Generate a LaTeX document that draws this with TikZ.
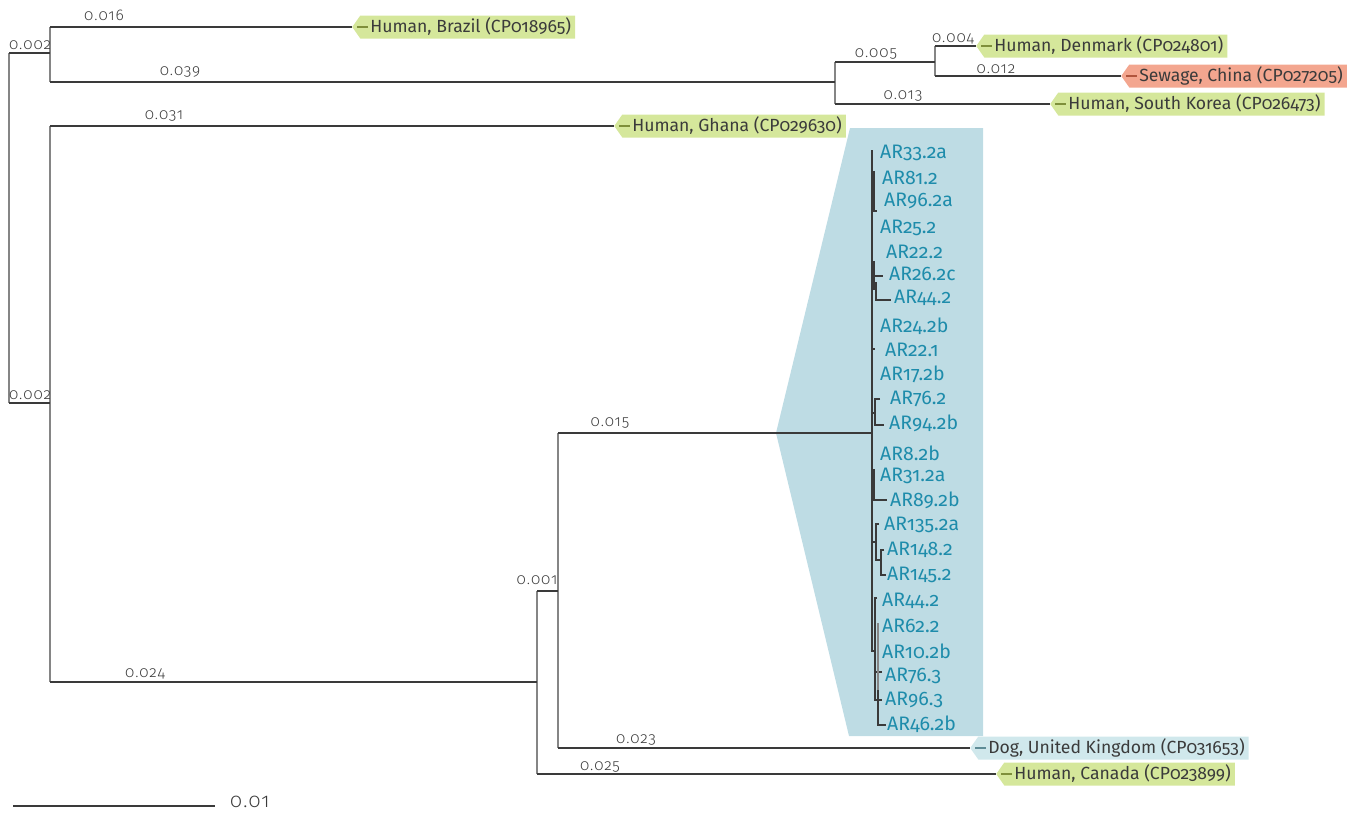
\documentclass[tikz,border=0pt]{standalone}
\usepackage{fontspec}
\usetikzlibrary{shapes.symbols}
\IfFontExistsTF{Fira Sans Book}{%
  \newfontfamily\tagfont{Fira Sans Book}[Numbers=OldStyle]
}{%
  \newfontfamily\tagfont{Fira Sans}[Numbers=OldStyle]
}
\IfFontExistsTF{Fira Sans Light}{%
  \setmainfont{Fira Sans Light}[Numbers=OldStyle]
  \newfontfamily\lenfont{Fira Sans Light}[Numbers=OldStyle,LetterSpace=6]
}{%
  \setmainfont{Fira Sans}[Numbers=OldStyle]
  \newfontfamily\lenfont{Fira Sans}[Numbers=OldStyle,LetterSpace=6]
}
\definecolor{hline}{HTML}{3A3A3A}
\definecolor{vline}{HTML}{858585}
\definecolor{tgreen}{HTML}{D5E79B}
\definecolor{tolive}{HTML}{7E8F3A}
\definecolor{tsalmon}{HTML}{F3A68F}
\definecolor{tbrown}{HTML}{B0553D}
\definecolor{tdog}{HTML}{D0E8EC}
\definecolor{tdogline}{HTML}{5E8C96}
\definecolor{cladefill}{HTML}{BEDCE4}
\definecolor{cladetext}{HTML}{1E8CAB}
\definecolor{txt}{HTML}{3B3B3B}
\tikzset{
  hb/.style={draw=hline, line width=2pt},
  vb/.style={draw=vline, line width=1.5pt},
  it/.style={draw=hline, line width=1.2pt},
  stub/.style={line width=2pt},
  tag/.style={shape=signal, signal to=west, signal from=nowhere, signal pointer angle=110,
    minimum height=23pt, inner ysep=0pt, inner xsep=4pt, anchor=west, text=txt,
    font=\tagfont\fontsize{17.6}{17.6}\selectfont, execute at begin node={\hspace*{6pt}}},
  blen/.style={font=\lenfont\fontsize{15.5}{15.5}\selectfont, text=txt, inner sep=0pt},
  leaf/.style={font=\tagfont\fontsize{19.5}{19.5}\selectfont, text=cladetext, anchor=west, inner sep=0pt},
}
\begin{document}
\begin{tikzpicture}[x=1pt,y=-1pt]
\useasboundingbox (0,0) rectangle (1360,814);
% clade background
\fill[cladefill] (776,433) -- (850,128) -- (983,128) -- (983,736) -- (849,736) -- cycle;

% internal nodes
\coordinate (A) at (9,228);
\coordinate (B) at (50,53);
\coordinate (C) at (50,403);
\coordinate (D) at (835,82);
\coordinate (E) at (935,62);
\coordinate (F) at (537,682);
\coordinate (G) at (558,591);
\coordinate (H) at (872,433);

% tags
\node[tag, fill=tgreen] (brazil) at (352,27) {Human, Brazil (CP018965)};
\node[tag, fill=tgreen] (denmark) at (976,46) {Human, Denmark (CP024801)};
\node[tag, fill=tsalmon] (sewage) at (1121,76) {Sewage, China (CP027205)};
\node[tag, fill=tgreen] (korea) at (1050,104) {Human, South Korea (CP026473)};
\node[tag, fill=tgreen] (ghana) at (614,126) {Human, Ghana (CP029630)};
\node[tag, fill=tdog] (dog) at (970,748) {Dog, United Kingdom (CP031653)};
\node[tag, fill=tgreen] (canada) at (996,774) {Human, Canada (CP023899)};

% vertical lines
\draw[vb] (A |- B) -- (A |- C);
\draw[vb] (B |- brazil.west) -- (B |- D);
\draw[vb] (D |- E) -- (D |- korea.west);
\draw[vb] (E |- denmark.west) -- (E |- sewage.west);
\draw[vb] (C |- ghana.west) -- (C |- F);
\draw[vb] (F |- G) -- (F |- canada.west);
\draw[vb] (G |- H) -- (G |- dog.west);

% horizontal branches
\draw[hb] (A |- B) -- (B);
\draw[hb] (A |- C) -- (C);
\draw[hb] (B |- brazil.west) -- (brazil.west);
\draw[hb] (B |- D) -- (D);
\draw[hb] (D |- E) -- (E);
\draw[hb] (E |- denmark.west) -- (denmark.west);
\draw[hb] (E |- sewage.west) -- (sewage.west);
\draw[hb] (D |- korea.west) -- (korea.west);
\draw[hb] (C |- ghana.west) -- (ghana.west);
\draw[hb] (C |- F) -- (F);
\draw[hb] (F |- G) -- (G);
\draw[hb] (F |- canada.west) -- (canada.west);
\draw[hb] (G |- H) -- (H);
\draw[hb] (G |- dog.west) -- (dog.west);

% stubs inside tags
\draw[stub, tolive] ([xshift=5pt]brazil.west) -- ++(11,0);
\draw[stub, tolive] ([xshift=5pt]denmark.west) -- ++(11,0);
\draw[stub, tbrown] ([xshift=5pt]sewage.west) -- ++(11,0);
\draw[stub, tolive] ([xshift=5pt]korea.west) -- ++(11,0);
\draw[stub, tolive] ([xshift=5pt]ghana.west) -- ++(11,0);
\draw[stub, tdogline] ([xshift=5pt]dog.west) -- ++(11,0);
\draw[stub, tolive] ([xshift=5pt]canada.west) -- ++(11,0);

% branch length labels
\node[blen] (l1) at (30,45) {0.002};
\node[blen] (l2) at (30,395) {0.002};
\node[blen] (l3) at (104,15) {0.016};
\node[blen] (l4) at (180,72) {0.039};
\node[blen] (l5) at (164,116) {0.031};
\node[blen] (l6) at (876,54) {0.005};
\node[blen] (l7) at (953,39) {0.004};
\node[blen] (l8) at (996,69) {0.012};
\node[blen] (l9) at (903,96) {0.013};
\node[blen] (l10) at (610,423) {0.015};
\node[blen] (l11) at (537,580) {0.001};
\node[blen] (l12) at (145,674) {0.024};
\node[blen] (l13) at (636,740) {0.023};
\node[blen] (l14) at (600,767) {0.025};

% clade leaves
\node[leaf] (a1) at (880,153) {AR33.2a};
\node[leaf] (a2) at (882,178) {AR81.2};
\node[leaf] (a3) at (884,201) {AR96.2a};
\node[leaf] (a4) at (880,228) {AR25.2};
\node[leaf] (a5) at (886,252) {AR22.2};
\node[leaf] (a6) at (889,274) {AR26.2c};
\node[leaf] (a7) at (894,298) {AR44.2};
\node[leaf] (a8) at (880,326) {AR24.2b};
\node[leaf] (a9) at (885,350) {AR22.1};
\node[leaf] (a10) at (880,374) {AR17.2b};
\node[leaf] (a11) at (890,399) {AR76.2};
\node[leaf] (a12) at (889,423) {AR94.2b};
\node[leaf] (a13) at (880,453) {AR8.2b};
\node[leaf] (a14) at (880,476) {AR31.2a};
\node[leaf] (a15) at (890,500) {AR89.2b};
\node[leaf] (a16) at (884,525) {AR135.2a};
\node[leaf] (a17) at (887,550) {AR148.2};
\node[leaf] (a18) at (887,575) {AR145.2};
\node[leaf] (a19) at (882,601) {AR44.2};
\node[leaf] (a20) at (882,626) {AR62.2};
\node[leaf] (a21) at (882,651) {AR10.2b};
\node[leaf] (a22) at (885,676) {AR76.3};
\node[leaf] (a23) at (885,700) {AR96.3};
\node[leaf] (a24) at (887,724) {AR46.2b};

% inner clade tree
\draw[it] (872,150) -- (872,652);
\draw[it] (872,172) -- (874,172) -- (874,211) -- (877,211);
\draw[it] (872,262) -- (874,262) -- (874,290);
\draw[it] (874,276) -- (883,276);
\draw[it] (876,282) -- (876,300) -- (891,300);
\draw[it] (872,349) -- (875,349);
\draw[it] (872,413) -- (875,413);
\draw[it] (880,399) -- (875,399) -- (875,425) -- (884,425);
\draw[it] (872,470) -- (874,470) -- (874,500) -- (887,500);
\draw[it] (872,542) -- (876,542);
\draw[it] (879,524) -- (876,524) -- (876,560) -- (881,560);
\draw[it] (884,550) -- (881,550) -- (881,575) -- (886,575);
\draw[it] (872,651) -- (875,651);
\draw[it] (877,598) -- (875,598) -- (875,700) -- (882,700);
\draw[it] (875,672) -- (882,672);
\draw[draw=vline, line width=1.2pt] (878,623) -- (878,690);
\draw[it] (878,690) -- (878,725) -- (886,725);

% scale bar
\coordinate (s1) at (13,806);
\coordinate (s2) at (215,806);
\draw[draw=hline, line width=1.5pt] (s1) -- (s2);
\node[font=\lenfont\fontsize{20}{20}\selectfont, text=txt, anchor=west, inner sep=0pt] (sl) at (230,802) {0.01};
\end{tikzpicture}
\end{document}
